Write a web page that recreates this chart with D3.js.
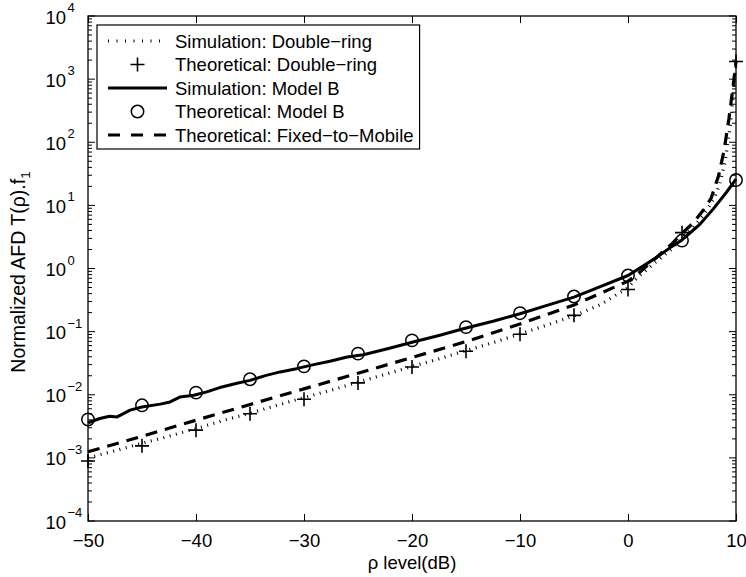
<!DOCTYPE html>
<html>
<head>
<meta charset="utf-8">
<script src="https://cdn.jsdelivr.net/npm/d3@7"></script>
<style>
  html, body { margin: 0; padding: 0; background: #fff; }
  svg { display: block; font-family: "Liberation Sans", Arial, Helvetica, sans-serif; }
</style>
</head>
<body>
<svg id="chart" width="746" height="577"></svg>
<script>
// ρ levels (dB) where the theoretical markers are evaluated
const rhoMarks = [-50, -45, -40, -35, -30, -25, -20, -15, -10, -5, 0, 5, 10];

// Theoretical: Double-ring (plus markers)
const theoDoubleRing = [8.9e-4, 1.55e-3, 2.75e-3, 5.0e-3, 8.5e-3, 0.0154, 0.0275, 0.049, 0.091, 0.181, 0.466, 3.7, 1900];

// Theoretical: Model B (circle markers)
const theoModelB = [4.06e-3, 6.8e-3, 0.0108, 0.0176, 0.0282, 0.0448, 0.0728, 0.118, 0.196, 0.36, 0.774, 2.77, 25.2];

// Simulation: Double-ring (dotted line)
const simDoubleRingRho = [-50, -47.5, -45, -42.5, -40, -37.5, -35, -32.5, -30, -27.5, -25, -22.5, -20, -17.5, -15, -12.5, -10, -7.5, -5, -2.5, 0, 1, 2, 3, 4, 5, 6, 7, 8, 8.5, 9, 9.5, 10];
const simDoubleRing = [1.0e-3, 1.3e-3, 1.7e-3, 2.2e-3, 2.9e-3, 3.9e-3, 5.1e-3, 6.8e-3, 9.0e-3, 0.0118, 0.0158, 0.021, 0.028, 0.037, 0.050, 0.067, 0.092, 0.127, 0.178, 0.27, 0.5, 0.75, 1.05, 1.45, 2.0, 3.0, 4.4, 7.0, 13, 22, 50, 200, 1900];

// Simulation: Model B (solid line)
const simModelBRho = [-50, -48.9, -48, -47.3, -46.1, -45, -43.3, -42.4, -41.5, -40.2, -39, -37.8, -36.2, -35, -33.5, -32.2, -30.7, -29.1, -27.6, -26, -24.5, -22, -19.9, -17.5, -15.25, -12.5, -10, -7.5, -5, -2.5, 0, 1.5, 2.65, 4, 5, 6, 6.7, 7.9, 9.1, 9.9, 10];
const simModelB = [0.0036, 0.0042, 0.00457, 0.00446, 0.0057, 0.0064, 0.0071, 0.0077, 0.0092, 0.0098, 0.0111, 0.0130, 0.0152, 0.0169, 0.0203, 0.0230, 0.0259, 0.0300, 0.0340, 0.0396, 0.0430, 0.055, 0.0684, 0.087, 0.111, 0.146, 0.192, 0.26, 0.352, 0.52, 0.775, 1.12, 1.5, 2.2, 2.84, 4.0, 5.1, 8.8, 16, 24.6, 26];

// Theoretical: Fixed-to-Mobile (dashed line)
const fixedToMobileRho = [-50, -45, -40, -35, -30, -25, -20, -15, -10, -5, 0, 1, 2, 3, 4, 5, 6, 7, 7.7, 8.4, 8.9, 9.35, 9.7, 10];
const fixedToMobile = [1.25e-3, 2.2e-3, 3.95e-3, 7.0e-3, 0.0124, 0.0219, 0.039, 0.0695, 0.132, 0.265, 0.63, 0.85, 1.2, 1.7, 2.4, 3.6, 5.2, 8.5, 13, 30, 75, 240, 700, 1900];

// Axis ticks
const xTicks = [-50, -40, -30, -20, -10, 0, 10];
const yDecades = [-4, -3, -2, -1, 0, 1, 2, 3, 4];

const legendLabels = [
  "Simulation: Double\u2212ring",
  "Theoretical: Double\u2212ring",
  "Simulation: Model B",
  "Theoretical: Model B",
  "Theoretical: Fixed\u2212to\u2212Mobile"
];

const FONT = 18.5;
const svg = d3.select("#chart");
const pL = 88, pR = 736, pT = 16, pB = 521;

const x = d3.scaleLinear().domain([-50, 10]).range([pL, pR]);
const y = d3.scaleLog().domain([1e-4, 1e4]).range([pB, pT]);

// --- axes ---
const xAxisB = d3.axisBottom(x).tickValues(xTicks).tickSize(-7)
  .tickFormat(d => d < 0 ? "\u2212" + Math.abs(d) : String(d));
const gxb = svg.append("g").attr("transform", `translate(0,${pB})`).call(xAxisB);
gxb.select(".domain").remove();
gxb.selectAll("text").attr("dy", null).attr("y", 26)
  .attr("font-size", FONT).attr("fill", "#000");
gxb.attr("font-family", null).attr("font-size", null);
gxb.selectAll("line").attr("stroke", "#000");

const xAxisT = d3.axisTop(x).tickValues(xTicks).tickSize(-7).tickFormat("");
const gxt = svg.append("g").attr("transform", `translate(0,${pT})`).call(xAxisT);
gxt.select(".domain").remove();
gxt.selectAll("line").attr("stroke", "#000");

// y ticks (log: major at decades, minor at 2..9)
const yMinor = [];
yDecades.slice(0, -1).forEach(p => { for (let k = 2; k <= 9; k++) yMinor.push(k * Math.pow(10, p)); });
const yt = svg.append("g").attr("stroke", "#000").attr("stroke-width", 1);
yDecades.forEach(p => {
  const yy = y(Math.pow(10, p));
  yt.append("line").attr("x1", pL).attr("x2", pL + 7).attr("y1", yy).attr("y2", yy);
  yt.append("line").attr("x1", pR).attr("x2", pR - 7).attr("y1", yy).attr("y2", yy);
});
yMinor.forEach(v => {
  const yy = y(v);
  yt.append("line").attr("x1", pL).attr("x2", pL + 4).attr("y1", yy).attr("y2", yy);
  yt.append("line").attr("x1", pR).attr("x2", pR - 4).attr("y1", yy).attr("y2", yy);
});

// y tick labels: 10 with superscript exponent
const ylab = svg.append("g").attr("fill", "#000");
yDecades.forEach(p => {
  const yy = y(Math.pow(10, p));
  ylab.append("text").attr("x", 66).attr("y", yy + 7.5)
    .attr("text-anchor", "end").attr("font-size", FONT).text("10");
  ylab.append("text").attr("x", 67.5).attr("y", yy - 4)
    .attr("text-anchor", "start").attr("font-size", 13)
    .text(p < 0 ? "\u2212" + Math.abs(p) : String(p));
});

// frame
svg.append("rect").attr("x", pL).attr("y", pT)
  .attr("width", pR - pL).attr("height", pB - pT)
  .attr("fill", "none").attr("stroke", "#000").attr("stroke-width", 1.3);

// axis labels
svg.append("text").attr("x", (pL + pR) / 2).attr("y", 569)
  .attr("text-anchor", "middle").attr("font-size", FONT).text("\u03c1 level(dB)");

const yl = svg.append("text")
  .attr("transform", "translate(25,272) rotate(-90)")
  .attr("text-anchor", "middle").attr("font-size", 19.5);
yl.append("tspan").text("Normalized AFD T(\u03c1).f");
yl.append("tspan").attr("dy", 5).attr("font-size", 13.5).text("1");

// --- series ---
const line = d3.line().x(d => x(d[0])).y(d => y(d[1]));
const plot = svg.append("g");

// Simulation: Double-ring (dotted)
plot.append("path")
  .datum(d3.zip(simDoubleRingRho, simDoubleRing))
  .attr("d", line).attr("fill", "none").attr("stroke", "#000")
  .attr("stroke-width", 3.2).attr("stroke-dasharray", "1,5.5");

// Theoretical: Double-ring (plus)
const plusPath = (cx, cy, s) => `M${cx - s},${cy}H${cx + s}M${cx},${cy - s}V${cy + s}`;
plot.append("g").selectAll("path")
  .data(d3.zip(rhoMarks, theoDoubleRing)).join("path")
  .attr("d", d => plusPath(x(d[0]), y(d[1]), 7))
  .attr("stroke", "#000").attr("stroke-width", 1.6).attr("fill", "none");

// Simulation: Model B (solid)
plot.append("path")
  .datum(d3.zip(simModelBRho, simModelB))
  .attr("d", line).attr("fill", "none").attr("stroke", "#000")
  .attr("stroke-width", 3).attr("stroke-linejoin", "round");

// Theoretical: Model B (circle)
plot.append("g").selectAll("circle")
  .data(d3.zip(rhoMarks, theoModelB)).join("circle")
  .attr("cx", d => x(d[0])).attr("cy", d => y(d[1])).attr("r", 6.2)
  .attr("fill", "none").attr("stroke", "#000").attr("stroke-width", 1.5);

// Theoretical: Fixed-to-Mobile (dashed)
plot.append("path")
  .datum(d3.zip(fixedToMobileRho, fixedToMobile))
  .attr("d", line).attr("fill", "none").attr("stroke", "#000")
  .attr("stroke-width", 3.2).attr("stroke-dasharray", "12,8");

// --- legend ---
const lg = svg.append("g");
const box = lg.append("rect").attr("x", 97).attr("y", 25).attr("height", 124)
  .attr("fill", "#fff").attr("stroke", "#000").attr("stroke-width", 1.2);
const rowY = [41, 64.5, 88, 111.5, 135];
const sx1 = 108, sx2 = 167, smid = (sx1 + sx2) / 2;
lg.append("line").attr("x1", sx1).attr("x2", sx2).attr("y1", rowY[0]).attr("y2", rowY[0])
  .attr("stroke", "#000").attr("stroke-width", 3.2).attr("stroke-dasharray", "1,7.5");
lg.append("path").attr("d", plusPath(smid, rowY[1], 7))
  .attr("stroke", "#000").attr("stroke-width", 1.6);
lg.append("line").attr("x1", sx1).attr("x2", sx2).attr("y1", rowY[2]).attr("y2", rowY[2])
  .attr("stroke", "#000").attr("stroke-width", 3);
lg.append("circle").attr("cx", smid).attr("cy", rowY[3]).attr("r", 6.2)
  .attr("fill", "none").attr("stroke", "#000").attr("stroke-width", 1.5);
lg.append("line").attr("x1", sx1).attr("x2", sx2).attr("y1", rowY[4]).attr("y2", rowY[4])
  .attr("stroke", "#000").attr("stroke-width", 3.2).attr("stroke-dasharray", "12,11");
let maxW = 0;
legendLabels.forEach((t, i) => {
  const tx = lg.append("text").attr("x", 175).attr("y", rowY[i] + 6.5)
    .attr("font-size", FONT).text(t);
  maxW = Math.max(maxW, tx.node().getComputedTextLength());
});
box.attr("width", 175 + maxW + 6 - 97);
</script>
</body>
</html>
